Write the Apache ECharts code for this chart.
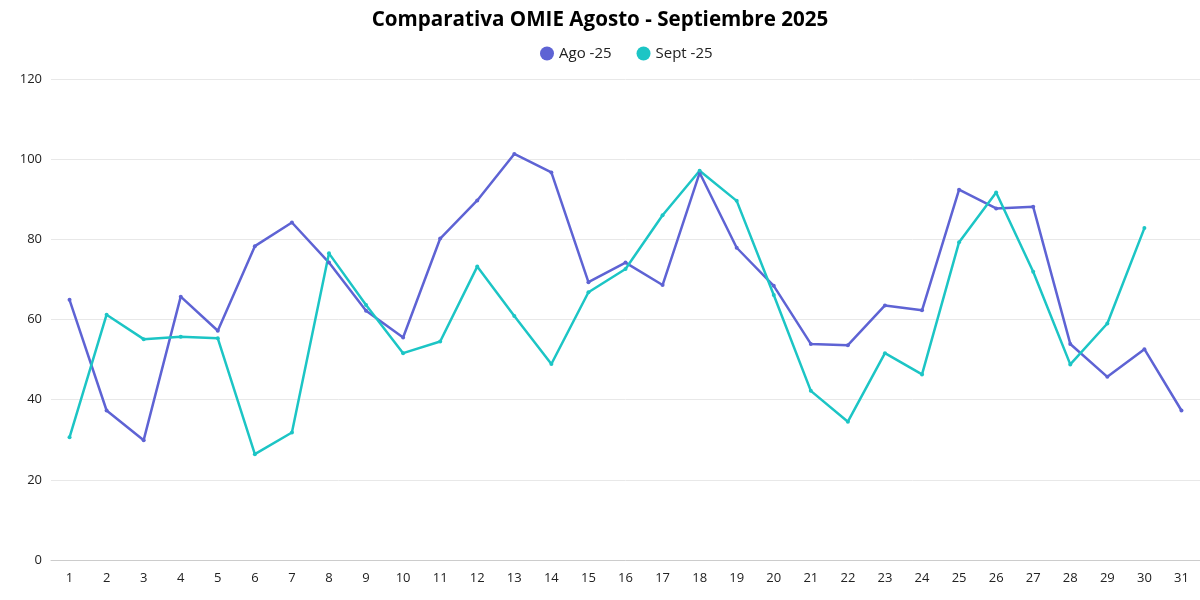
<!DOCTYPE html>
<html>
<head>
<meta charset="utf-8">
<script src="https://cdn.jsdelivr.net/npm/echarts@6/dist/echarts.min.js"></script>
<style>html,body{margin:0;padding:0;background:#fff}#c{width:1200px;height:600px}</style>
</head>
<body>
<div id="c"></div>
<script>
const days = ['1','2','3','4','5','6','7','8','9','10','11','12','13','14','15','16','17','18','19','20','21','22','23','24','25','26','27','28','29','30','31'];
const ago25 = [64.9,37.3,29.9,65.7,57.2,78.3,84.2,74.2,62.2,55.5,80.2,89.7,101.3,96.7,69.3,74.2,68.6,96.6,77.9,68.4,53.9,53.6,63.5,62.3,92.4,87.7,88.1,53.9,45.7,52.6,37.3];
const sept25 = [30.6,61.2,55.1,55.7,55.3,26.4,31.8,76.5,63.6,51.6,54.5,73.2,60.9,48.9,66.8,72.6,86.0,97.1,89.6,66.1,42.2,34.5,51.6,46.3,79.3,91.7,71.9,48.8,59.0,82.8,null];
const yTicks = [0,20,40,60,80,100,120];
const FONT = 'Open Sans';

const chart = echarts.init(document.getElementById('c'));
chart.setOption({
  animation: false,
  textStyle: {fontFamily: FONT},
  title: {
    text: 'Comparativa OMIE Agosto - Septiembre 2025',
    left: 'center', top: 5,
    textStyle: {fontFamily: FONT, fontWeight: 'bold', fontSize: 20.6, color: '#000'}
  },
  legend: {
    top: 41, left: 535, icon: 'circle', itemWidth: 14, itemHeight: 14, itemGap: 25,
    textStyle: {fontFamily: FONT, fontSize: 15, color: '#222'},
    data: ['Ago -25', 'Sept -25']
  },
  grid: {left: 51, right: 0, top: 79, bottom: 40, containLabel: false},
  xAxis: {
    type: 'category', data: days, boundaryGap: true,
    axisLine: {lineStyle: {color: '#ccc'}},
    axisTick: {show: false},
    axisLabel: {color: '#222', fontSize: 13, margin: 12, interval: 0}
  },
  yAxis: {
    type: 'value', min: yTicks[0], max: yTicks[yTicks.length-1], interval: 20,
    axisLine: {show: false}, axisTick: {show: false},
    axisLabel: {color: '#222', fontSize: 13, margin: 9},
    splitLine: {lineStyle: {color: '#e8e8e8'}}
  },
  series: [
    {name: 'Ago -25', type: 'line', data: ago25, symbol: 'circle', symbolSize: 4,
     itemStyle: {color: '#5e63d4'}, lineStyle: {width: 2.5, color: '#5e63d4'}},
    {name: 'Sept -25', type: 'line', data: sept25, symbol: 'circle', symbolSize: 4,
     itemStyle: {color: '#1cc5c5'}, lineStyle: {width: 2.5, color: '#1cc5c5'}}
  ]
});
</script>
</body>
</html>
